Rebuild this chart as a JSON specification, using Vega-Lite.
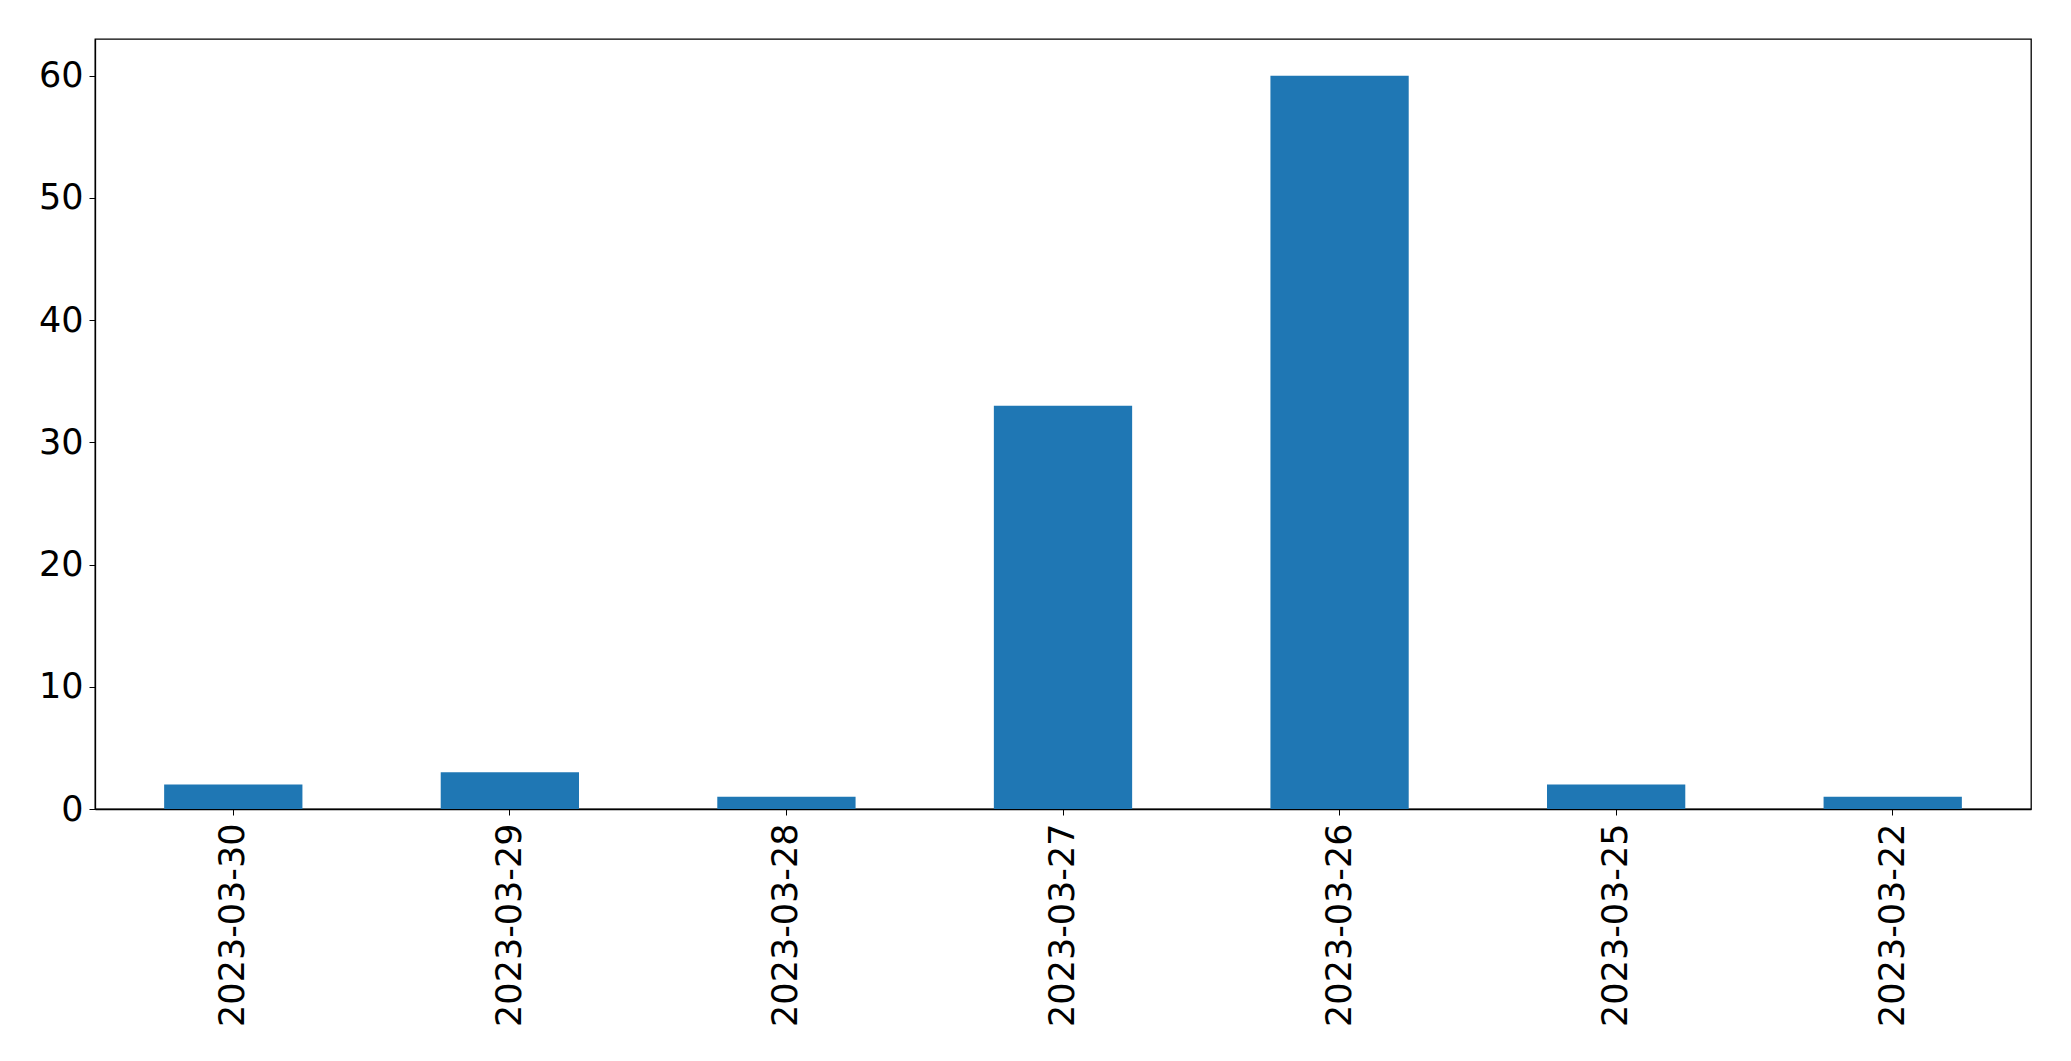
{
  "$schema": "https://vega.github.io/schema/vega-lite/v6.json",
  "width": 1936,
  "height": 770,
  "autosize": "none",
  "padding": {"left": 95, "top": 39, "right": 40, "bottom": 252},
  "background": "white",
  "data": {"values": [
    {"date": "2023-03-30", "count": 2},
    {"date": "2023-03-29", "count": 3},
    {"date": "2023-03-28", "count": 1},
    {"date": "2023-03-27", "count": 33},
    {"date": "2023-03-26", "count": 60},
    {"date": "2023-03-25", "count": 2},
    {"date": "2023-03-22", "count": 1}
  ]},
  "mark": {"type": "bar", "color": "#1f77b4"},
  "encoding": {
    "x": {
      "field": "date", "type": "nominal", "sort": null,
      "scale": {"paddingInner": 0.5, "paddingOuter": 0.25},
      "axis": {"title": null, "labelAngle": -90, "labelFont": "DejaVu Sans", "labelFontSize": 35, "labelColor": "black", "labelLimit": 0,
               "tickColor": "black", "tickSize": 6, "labelPadding": 8, "domainColor": "black", "domainWidth": 1.3, "grid": false}
    },
    "y": {
      "field": "count", "type": "quantitative",
      "scale": {"domain": [0, 63], "nice": false},
      "axis": {"title": null, "values": [0, 10, 20, 30, 40, 50, 60], "labelFont": "DejaVu Sans", "labelFontSize": 35, "labelColor": "black",
               "tickColor": "black", "tickSize": 6, "labelPadding": 6, "domainColor": "black", "domainWidth": 1.3, "grid": false}
    }
  },
  "config": {"view": {"stroke": "black", "strokeWidth": 1.3}}
}
